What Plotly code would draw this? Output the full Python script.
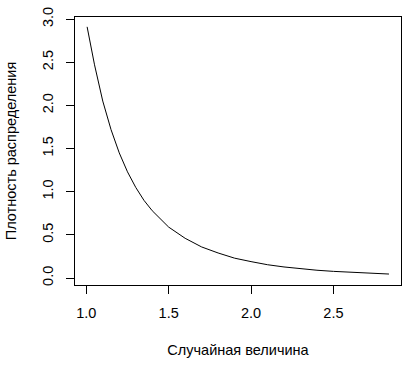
import plotly.graph_objects as go

# Values
x_values = [1.005, 1.05, 1.1, 1.15, 1.2, 1.25, 1.3, 1.35, 1.4, 1.45, 1.5, 1.6, 1.7, 1.8,
            1.9, 2.0, 2.1, 2.2, 2.3, 2.4, 2.5, 2.6, 2.7, 2.837]
y_values = [2.91, 2.47, 2.05, 1.72, 1.45, 1.23, 1.05, 0.90, 0.78, 0.68, 0.59, 0.46, 0.36, 0.29,
            0.23, 0.19, 0.154, 0.128, 0.107, 0.090, 0.077, 0.066, 0.056, 0.046]
x_ticks = [1.0, 1.5, 2.0, 2.5]
y_ticks = [0.0, 0.5, 1.0, 1.5, 2.0, 2.5, 3.0]
x_title = "Случайная величина"
y_title = "Плотность распределения"

font_family = "Liberation Sans, Arial, sans-serif"
fs = 14.5

fig = go.Figure()
fig.add_trace(go.Scatter(x=x_values, y=y_values, mode="lines",
                         line=dict(color="black", width=1), showlegend=False,
                         hoverinfo="skip"))

fig.update_layout(
    width=418, height=366,
    margin=dict(l=75, r=17, t=17, b=81, autoexpand=False),
    paper_bgcolor="white", plot_bgcolor="white",
    font=dict(family=font_family, size=fs, color="black"),
    showlegend=False,
)
fig.update_xaxes(
    range=[0.9315, 2.910], tickvals=x_ticks, ticktext=[f"{v:.1f}" for v in x_ticks],
    showgrid=False, zeroline=False, showline=True, linecolor="black", linewidth=1,
    mirror=True, ticks="outside", ticklen=8, tickcolor="black", tickwidth=1,
    ticklabelstandoff=7, automargin=False,
    title=dict(text=x_title, standoff=24, font=dict(size=fs)),
)
fig.update_yaxes(
    range=[-0.081, 3.024], tickvals=y_ticks, ticktext=[f"{v:.1f}" for v in y_ticks],
    showgrid=False, zeroline=False, showline=True, linecolor="black", linewidth=1,
    mirror=True, ticks="outside", ticklen=8, tickcolor="black", tickwidth=1,
    tickangle=-90, ticklabelstandoff=7, automargin=False,
    title=dict(text=y_title, standoff=20, font=dict(size=fs)),
)

fig.write_html("out.html", config={"displayModeBar": False},
               post_script="document.body.style.margin='0';")
